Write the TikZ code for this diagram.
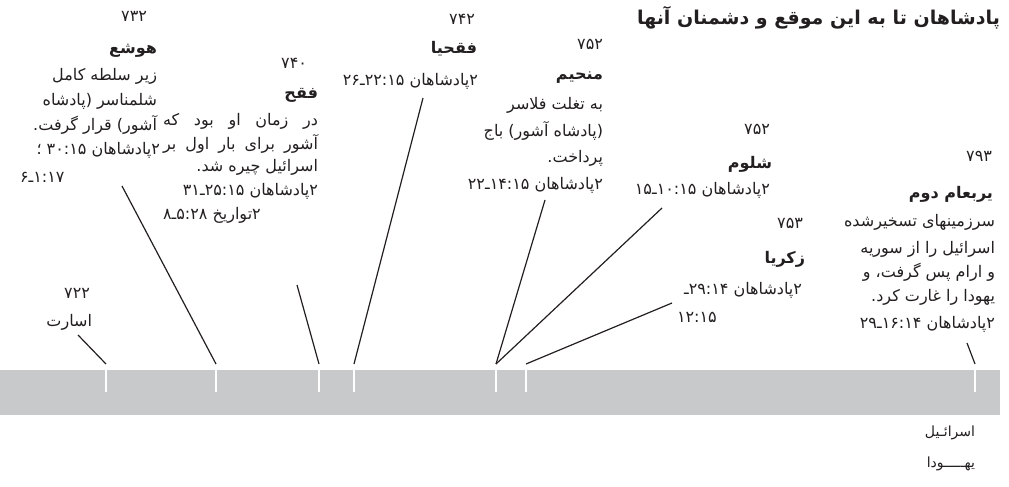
\documentclass[tikz,border=0pt]{standalone}
\usepackage{fontspec}
\TeXXeTstate=1
\newfontfamily\fa[Script=Arabic]{DejaVu Sans}
\definecolor{ink}{RGB}{35,31,32}
\definecolor{barg}{RGB}{200,201,203}
\newcommand\fabody{\fa\fontsize{16}{18}\selectfont}
\newcommand\fanum{\fa\fontsize{16}{18}\selectfont}
\newcommand\faname{\fa\bfseries\fontsize{16}{18}\selectfont}
\newcommand\fatitle{\fa\bfseries\fontsize{19}{21}\selectfont}
\newcommand\falab{\fa\fontsize{14}{16}\selectfont}
\newcommand\RL[1]{\beginR #1\endR}
\newcommand\JL[2]{\hbox to #1pt{\spaceskip=0.32em plus 1fil\relax\beginR #2\endR}}
\newcommand\N[1]{\hbox{#1}}
\begin{document}
\begin{tikzpicture}[x=1pt,y=-1pt,
  txt/.style={inner sep=0pt,outer sep=0pt,text=ink,font=\fabody,anchor=base east},
  txtl/.style={txt,anchor=base west},
  num/.style={txt,font=\fanum},
  nm/.style={txt,font=\faname},
  ttl/.style={txt,font=\fatitle},
  lab/.style={txt,font=\falab},
  link/.style={draw=ink,line width=1.2pt},
  tickmark/.style={draw=white,line width=2pt}]
\useasboundingbox (0,0) rectangle (1009,487);
% bar
\fill[barg] (0,370) rectangle (1000,415);
% title
\node[ttl] (title) at (1000,25) {\RL{پادشاهان تا به این موقع و دشمنان آنها}};
% block 1
\node[num] (n732) at (147,22) {\RL{۷۳۲}};
\node[nm] (hosh) at (157,54) {\RL{هوشع}};
\node[txt] (b1a) at (157,81) {\RL{زیر سلطه کامل}};
\node[txt] (b1b) at (157,105) {\RL{شلمناسر (پادشاه}};
\node[txt] (b1c) at (157,130) {\RL{آشور) قرار گرفت.}};
\node[txt] (b1d) at (160,154) {\RL{۲پادشاهان \N{۱۵}:\N{۳۰} ؛}};
\node[txtl] (b1e) at (20,182) {\N{۶}ـ\N{۱}:\N{۱۷}};
% block 2
\node[num] (n740) at (307,69) {\RL{۷۴۰}};
\node[nm] (peka) at (318,98) {\RL{فقح}};
\node[txt] (b2a) at (318,125) {\JL{155}{در زمان او بود که}};
\node[txt] (b2b) at (318,149) {\JL{155}{آشور برای بار اول بر}};
\node[txt] (b2c) at (318,171) {\RL{اسرائیل چیره شد.}};
\node[txt] (b2d) at (318,195) {\RL{۲پادشاهان \N{۱۵}:\N{۲۵}ـ\N{۳۱}}};
\node[txtl] (b2e) at (163,219) {\RL{۲تواریخ \N{۲۸}:\N{۵}ـ\N{۸}}};
% block 3
\node[num] (n742) at (475,25) {\RL{۷۴۲}};
\node[nm] (pekh) at (477,54) {\RL{فقحیا}};
\node[txt] (b3a) at (478,85) {\RL{۲پادشاهان \N{۱۵}:\N{۲۲}ـ\N{۲۶}}};
% block 4
\node[num] (n752a) at (603,49) {\RL{۷۵۲}};
\node[nm] (mena) at (603,80) {\RL{منحیم}};
\node[txt] (b4a) at (603,109) {\RL{به تغلت فلاسر}};
\node[txt] (b4b) at (603,136) {\RL{(پادشاه آشور) باج}};
\node[txt] (b4c) at (603,162) {\RL{پرداخت.}};
\node[txt] (b4d) at (603,189) {\RL{۲پادشاهان \N{۱۵}:\N{۱۴}ـ\N{۲۲}}};
% block 5
\node[num] (n752b) at (770,134) {\RL{۷۵۲}};
\node[nm] (shal) at (772,168) {\RL{شلوم}};
\node[txt] (b5a) at (770,194) {\RL{۲پادشاهان \N{۱۵}:\N{۱۰}ـ\N{۱۵}}};
% block 6
\node[num] (n753) at (803,228) {\RL{۷۵۳}};
\node[nm] (zech) at (805,263) {\RL{زکریا}};
\node[txt] (b6a) at (802,294) {\RL{۲پادشاهان \N{۱۴}:\N{۲۹}ـ}};
\node[txtl] (b6b) at (677,322) {\N{۱۲}:\N{۱۵}};
% block 7
\node[num] (n793) at (992,161) {\RL{۷۹۳}};
\node[nm] (jero) at (993,198) {\RL{یربعام دوم}};
\node[txt] (b7a) at (995,226) {\RL{سرزمینهای تسخیرشده}};
\node[txt] (b7b) at (995,253) {\RL{اسرائیل را از سوریه}};
\node[txt] (b7c) at (995,277) {\RL{و ارام پس گرفت، و}};
\node[txt] (b7d) at (995,301) {\RL{یهودا را غارت کرد.}};
\node[txt] (b7e) at (995,328) {\RL{۲پادشاهان \N{۱۴}:\N{۱۶}ـ\N{۲۹}}};
% block 8
\node[num] (n722) at (90,298) {\RL{۷۲۲}};
\node[txt] (exile) at (92,326) {\RL{اسارت}};
% bottom labels
\node[lab] (isr) at (975,436) {\RL{اسرائـیل}};
\node[lab] (jud) at (975,467) {\RL{یهـــــودا}};
% ticks
\foreach \n/\x in {1/106,2/216,3/319,4/354,5/496,6/526,7/975}{
  \coordinate (t\n) at (\x,370);
  \coordinate (u\n) at (\x,364);
  \draw[tickmark] (t\n) -- ++(0,22);
}
% connector start points
\coordinate (s1) at (78,335);
\coordinate (s2) at (122,186);
\coordinate (s3) at (297,285);
\coordinate (s4) at (423,98);
\coordinate (s5) at (545,200);
\coordinate (s6) at (662,208);
\coordinate (s7) at (672,303);
\coordinate (s8) at (967,343);
\draw[link] (s1) -- (u1);
\draw[link] (s2) -- (u2);
\draw[link] (s3) -- (u3);
\draw[link] (s4) -- (u4);
\draw[link] (s5) -- (u5);
\draw[link] (s6) -- (u5);
\draw[link] (s7) -- (u6);
\draw[link] (s8) -- (u7);
\end{tikzpicture}
\end{document}
